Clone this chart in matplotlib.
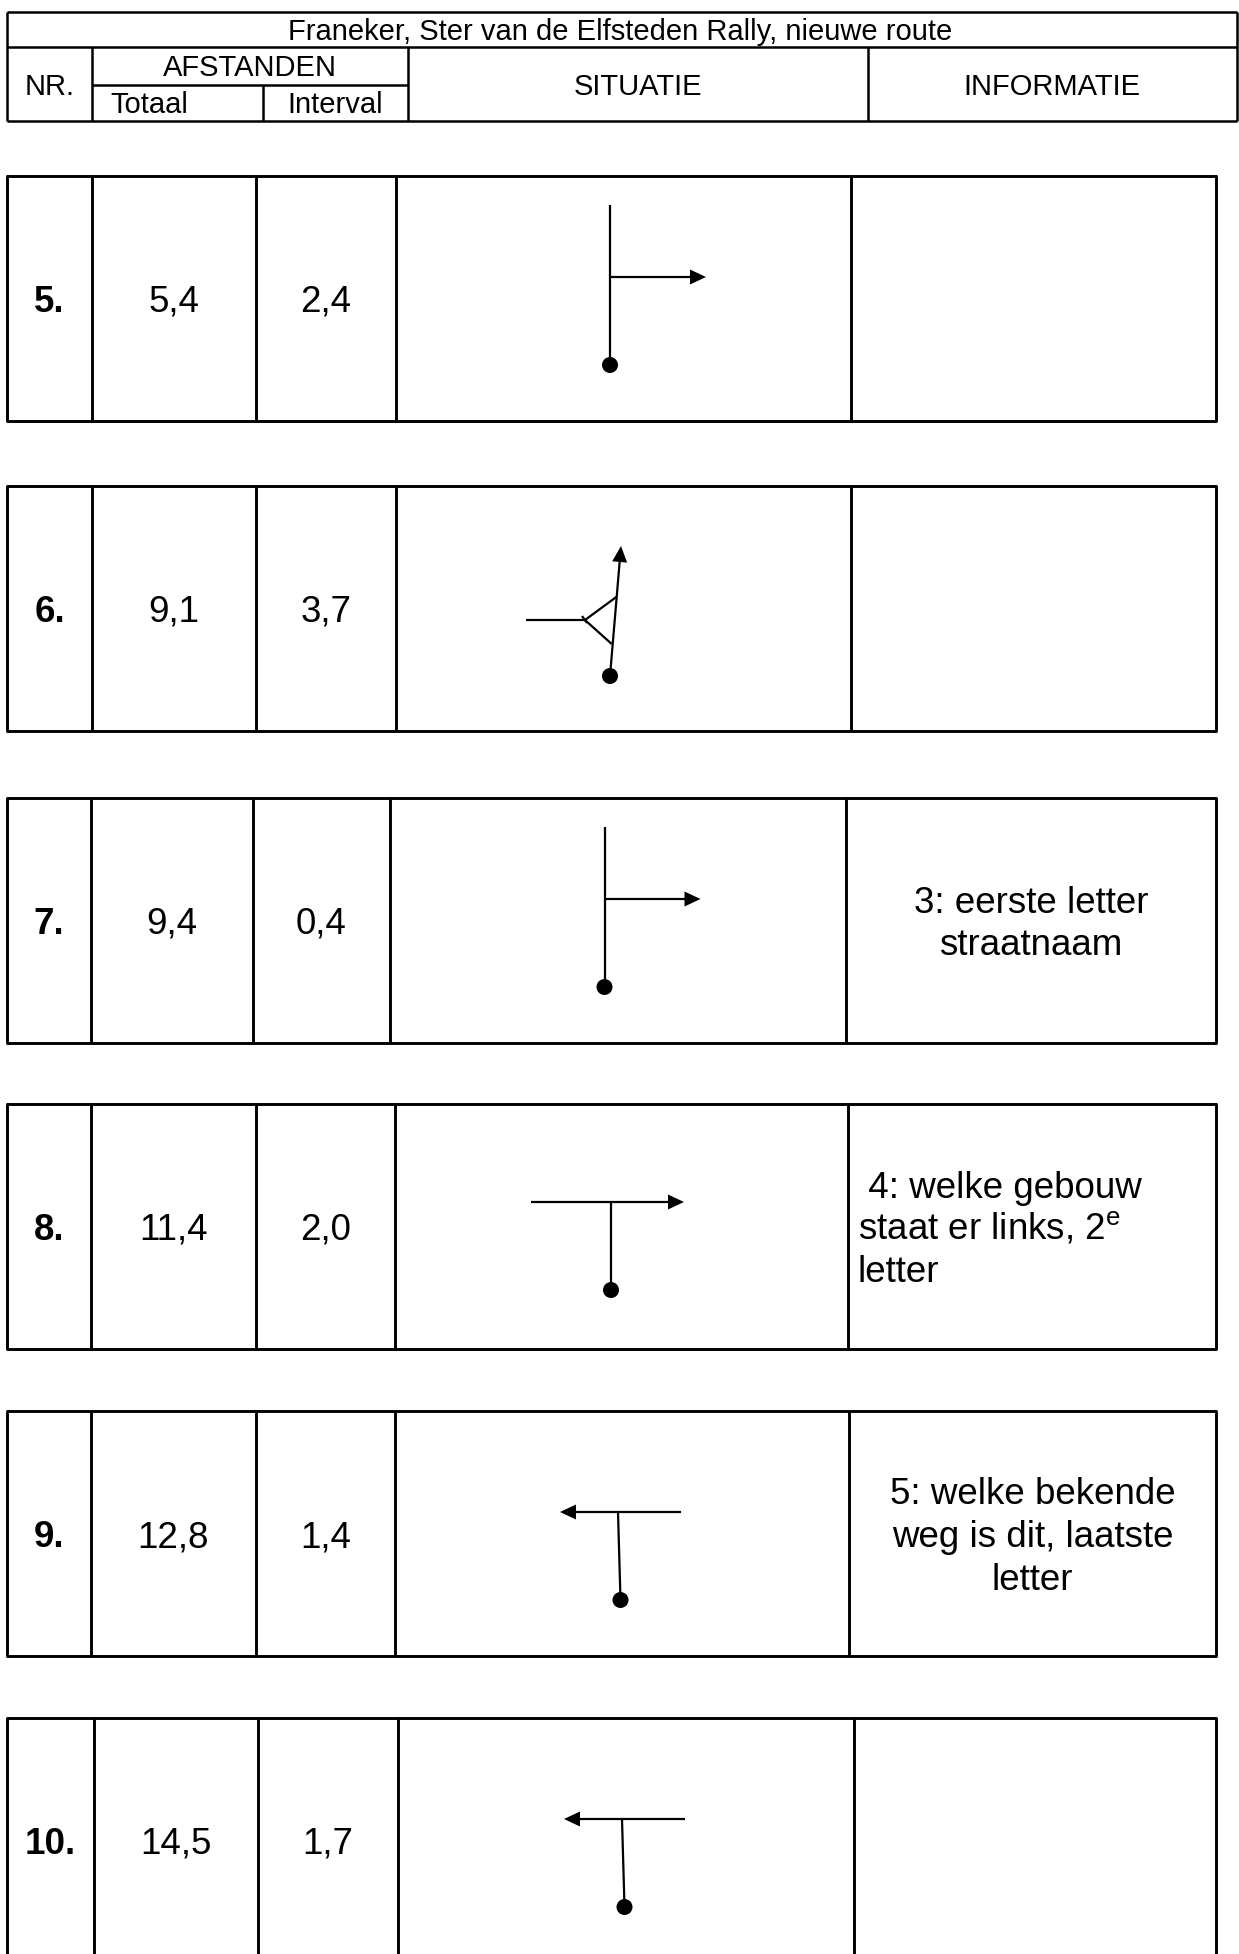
import matplotlib.pyplot as plt
from matplotlib.patches import Polygon, Circle

plt.rcParams['font.family'] = ['Liberation Sans', 'DejaVu Sans']
plt.rcParams['mathtext.fontset'] = 'custom'
plt.rcParams['mathtext.rm'] = 'Liberation Sans'

# route data
title = 'Franeker, Ster van de Elfsteden Rally, nieuwe route'
nrs = ['5.', '6.', '7.', '8.', '9.', '10.']
totaal = ['5,4', '9,1', '9,4', '11,4', '12,8', '14,5']
interval = ['2,4', '3,7', '0,4', '2,0', '1,4', '1,7']
situatie = ['rechts', 'splitsing', 'rechts', 't_rechts', 't_links', 't_links']
informatie = [
    [],
    [],
    ['3: eerste letter', 'straatnaam'],
    [' 4: welke gebouw', 'staat er links, 2$^{\\mathrm{e}}$', 'letter'],
    ['5: welke bekende', 'weg is dit, laatste', 'letter'],
    [],
]
info_align = ['center', 'center', 'center', 'left', 'center', 'center']

# layout (pixels)
row_top = [176, 486, 798, 1104, 1411, 1718]
row_h = 245
col_x = [
    [7, 92, 256, 396, 851, 1216],
    [7, 92, 256, 396, 851, 1216],
    [7, 91, 253, 390, 846, 1216],
    [7, 91, 256, 395, 848, 1216],
    [7, 91, 256, 395, 849, 1216],
    [7, 94, 258, 398, 854, 1216],
]
diag_x = [610, 610, 604.5, 611, 618, 622]

LW = 2.1      # borders
LWD = 1.6     # diagram lines
BODY = 26.5
HEAD = 21

fig = plt.figure(figsize=(12.39, 19.54), dpi=100)
ax = fig.add_axes([0, 0, 1, 1])
ax.set_xlim(0, 1239)
ax.set_ylim(1954, 0)
ax.axis('off')


def line(x0, y0, x1, y1, lw=LWD):
    ax.plot([x0, x1], [y0, y1], color='black', lw=lw, solid_capstyle='butt')


def arrow(x0, y0, x1, y1):
    dx, dy = x1 - x0, y1 - y0
    n = (dx ** 2 + dy ** 2) ** 0.5
    ux, uy = dx / n, dy / n
    L, W = 16, 7.5
    bx, by = x1 - ux * L, y1 - uy * L
    line(x0, y0, bx, by)
    ax.add_patch(Polygon([[x1, y1], [bx - uy * W, by + ux * W], [bx + uy * W, by - ux * W]],
                         closed=True, color='black', lw=0))


def dot(x, y):
    ax.add_patch(Circle((x, y), 8, color='black', lw=0))


def teken(kind, cx, top):
    if kind == 'rechts':
        line(cx, top + 29, cx, top + 189)
        arrow(cx, top + 101, cx + 96, top + 101)
        dot(cx, top + 189)
    elif kind == 't_rechts':
        arrow(cx - 80, top + 98, cx + 73, top + 98)
        line(cx, top + 98, cx, top + 186)
        dot(cx, top + 186)
    elif kind == 't_links':
        arrow(cx + 63, top + 101, cx - 58, top + 101)
        line(cx, top + 101, cx + 2.5, top + 189)
        dot(cx + 2.5, top + 189)
    elif kind == 'splitsing':
        arrow(cx, top + 190, cx + 11, top + 60)
        line(cx - 84, top + 134, cx - 25, top + 134)
        line(cx - 25, top + 134, cx + 6.7, top + 110.7)
        line(cx - 25, top + 134, cx + 1.7, top + 158)
        line(cx - 28, top + 130, cx - 23, top + 137)
        dot(cx, top + 190)


# header
hx = [7, 92, 263, 408, 868, 1237]
ht, hm, hs, hb = 12, 47, 85, 121
line(hx[0], ht, hx[-1], ht, 1.8)
line(hx[0], hm, hx[-1], hm, 1.8)
line(hx[0], hb, hx[-1], hb, 1.8)
line(hx[1], hs, hx[3], hs, 1.8)
for i, x in enumerate(hx):
    y0 = ht if i in (0, 5) else hm
    y0 = hs if i == 2 else y0
    line(x, y0, x, hb, 1.8)
ax.text(620, 40, title, fontsize=HEAD, ha='center', va='baseline')
ax.text(49.5, 95, 'NR.', fontsize=HEAD, ha='center', va='baseline')
ax.text(250, 76, 'AFSTANDEN', fontsize=HEAD, ha='center', va='baseline')
ax.text(110, 113, 'Totaal', fontsize=HEAD, ha='left', va='baseline')
ax.text(335.5, 113, 'Interval', fontsize=HEAD, ha='center', va='baseline')
ax.text(638, 95, 'SITUATIE', fontsize=HEAD, ha='center', va='baseline')
ax.text(1052, 95, 'INFORMATIE', fontsize=HEAD, ha='center', va='baseline')

# rows
for r in range(len(nrs)):
    top = row_top[r]
    bot = min(top + row_h, 1960)
    xs = col_x[r]
    line(xs[0] - 1, top, xs[-1] + 1, top, LW)
    if top + row_h < 1954:
        line(xs[0] - 1, bot, xs[-1] + 1, bot, LW)
    for x in xs:
        line(x, top, x, bot, LW)
    yc = top + row_h / 2
    base = yc + 13.5
    ax.text((xs[0] + xs[1]) / 2, base, nrs[r], fontsize=BODY, fontweight='bold',
            ha='center', va='baseline')
    ax.text((xs[1] + xs[2]) / 2, base, totaal[r], fontsize=BODY, ha='center', va='baseline')
    ax.text((xs[2] + xs[3]) / 2, base, interval[r], fontsize=BODY, ha='center', va='baseline')
    teken(situatie[r], diag_x[r], top)
    lines = informatie[r]
    n = len(lines)
    for i, t in enumerate(lines):
        yb = base + (i - (n - 1) / 2) * 42.5
        if info_align[r] == 'left':
            ax.text(xs[4] + 10, yb, t, fontsize=BODY, ha='left', va='baseline')
        else:
            ax.text((xs[4] + xs[5]) / 2, yb, t, fontsize=BODY, ha='center', va='baseline')

fig.savefig('out.png', dpi=100)
